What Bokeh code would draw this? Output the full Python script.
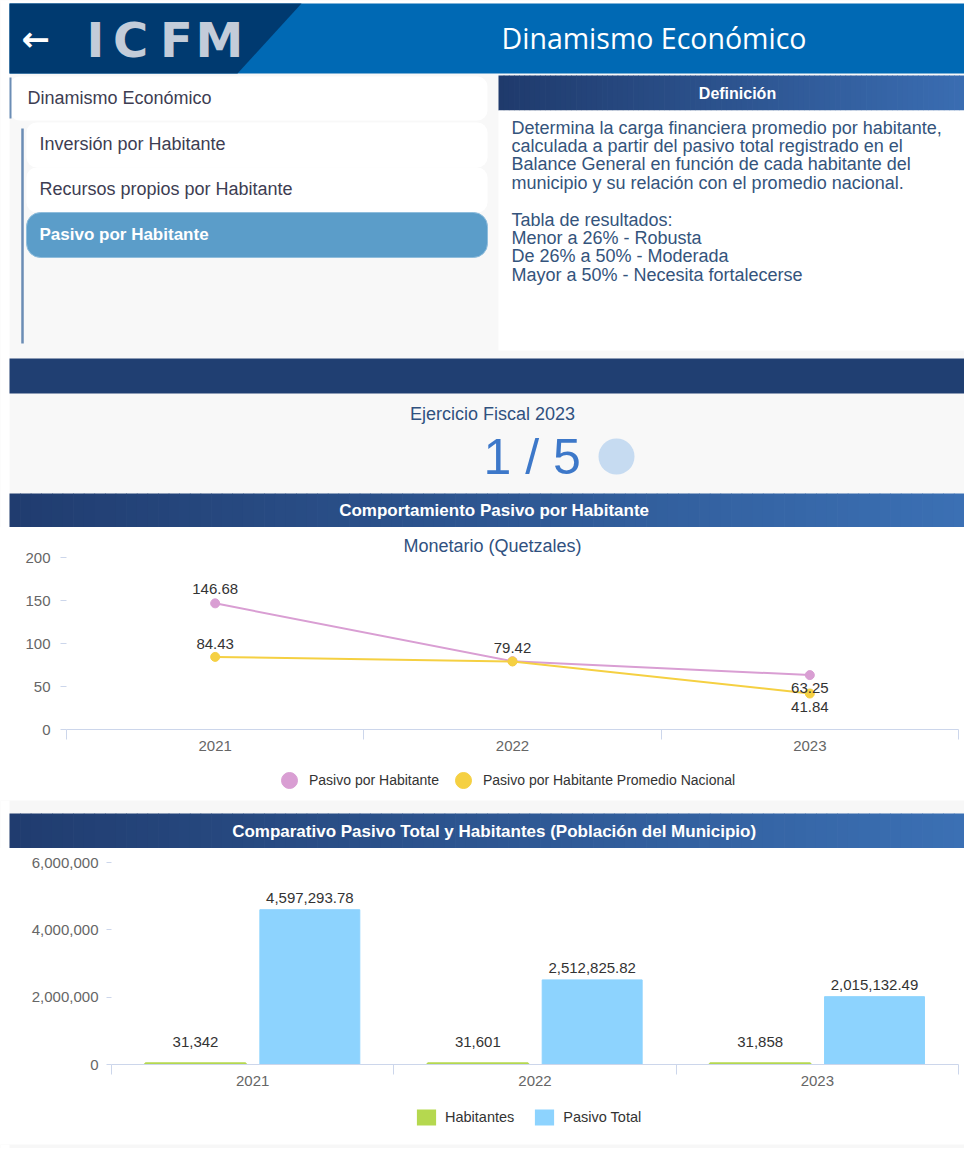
import numpy as np
from bokeh.plotting import figure
from bokeh.models import (Range1d, FixedTicker, NumeralTickFormatter, Legend, LegendItem)
from bokeh.embed import file_html
from bokeh.resources import INLINE
from bokeh.core.properties import value

# ---------------- data ----------------
years = ["2021", "2022", "2023"]
pasivo_por_habitante = [146.68, 79.42, 63.25]
pasivo_promedio_nacional = [84.43, 79.10, 41.84]
habitantes = [31342, 31601, 31858]
pasivo_total = [4597293.78, 2512825.82, 2015132.49]
line_y_ticks = [0, 50, 100, 150, 200]
bar_y_ticks = [0, 2000000, 4000000, 6000000]

page_title = "Dinamismo Económico"
logo = "ICFM"
menu_section = "Dinamismo Económico"
menu_items = ["Inversión por Habitante", "Recursos propios por Habitante", "Pasivo por Habitante"]
selected_item = 2
definition_title = "Definición"
definition_lines = [
    "Determina la carga financiera promedio por habitante,",
    "calculada a partir del pasivo total registrado en el",
    "Balance General en función de cada habitante del",
    "municipio y su relación con el promedio nacional.",
    "",
    "Tabla de resultados:",
    "Menor a 26% - Robusta",
    "De 26% a 50% - Moderada",
    "Mayor a 50% - Necesita fortalecerse",
]
ejercicio = "Ejercicio Fiscal 2023"
pager = "1 / 5"
chart1_title = "Comportamiento Pasivo por Habitante"
chart1_subtitle = "Monetario (Quetzales)"
chart2_title = "Comparativo Pasivo Total y Habitantes (Población del Municipio)"
series1_names = ["Pasivo por Habitante", "Pasivo por Habitante Promedio Nacional"]
series2_names = ["Habitantes", "Pasivo Total"]

# ---------------- style ----------------
FONT = "Liberation Sans"
PINK = "#d99ed3"
YELLOW = "#f5d042"
GREEN = "#b5d84f"
BLUE = "#8dd3fe"
AXIS_GRAY = "#ccd6eb"
TICK_TXT = "#666666"
LABEL_TXT = "#333333"
PAGE_GRAY = "#f8f8f8"
W = 964
XL, XR = 0, 964


def mix(c0, c1, t):
    a = [int(c0[i:i + 2], 16) for i in (1, 3, 5)]
    b = [int(c1[i:i + 2], 16) for i in (1, 3, 5)]
    return "#%02x%02x%02x" % tuple(int(round(a[k] + (b[k] - a[k]) * t)) for k in range(3))


def deco_fig(y_top, y_bot, bg=PAGE_GRAY):
    p = figure(width=W, height=y_bot - y_top, x_range=Range1d(XL, XR),
               y_range=Range1d(y_bot, y_top), output_backend="svg",
               toolbar_location=None, x_axis_location=None, y_axis_location=None,
               min_border=0)
    p.grid.visible = False
    p.outline_line_color = None
    p.background_fill_color = bg
    p.border_fill_color = bg
    p.quad(left=XL, right=9, top=y_top, bottom=y_bot, fill_color="#ffffff", line_color=None)
    return p


def gradient_band(p, x0, x1, y0, y1, c0, c1, n=90):
    edges = np.linspace(x0, x1, n + 1)
    cols = [mix(c0, c1, (i + 0.5) / n) for i in range(n)]
    p.quad(left=edges[:-1], right=edges[1:] + 0.7, top=y0, bottom=y1,
           fill_color=cols, line_color=None)


def txt(p, x, y, s, size, color, align="left", bold=False, font=FONT):
    p.text(x=[x], y=[y], text=[s], text_font=value(font), text_font_size=size,
           text_color=color, text_align=align, text_baseline="middle",
           text_font_style="bold" if bold else "normal")


def style_axes(p, ytick_out, ystandoff):
    p.grid.visible = False
    p.outline_line_color = None
    p.background_fill_color = "#ffffff"
    p.border_fill_color = "#ffffff"
    n = len(years)
    centers = [i + 0.5 for i in range(n)]
    p.xaxis.ticker = FixedTicker(ticks=centers, minor_ticks=list(range(n + 1)))
    p.xaxis.major_label_overrides = {c: y for c, y in zip(centers, years)}
    p.xaxis.major_tick_line_color = None
    p.xaxis.major_tick_out = 0
    p.xaxis.major_tick_in = 0
    p.xaxis.minor_tick_out = 10
    p.xaxis.minor_tick_in = 0
    p.xaxis.minor_tick_line_color = AXIS_GRAY
    p.xaxis.axis_line_color = AXIS_GRAY
    p.xaxis.major_label_standoff = 1
    p.yaxis.axis_line_color = None
    p.yaxis.major_tick_out = ytick_out
    p.yaxis.major_tick_in = 0
    p.yaxis.major_tick_line_color = AXIS_GRAY
    p.yaxis.minor_tick_line_color = None
    p.yaxis.major_label_standoff = ystandoff
    for ax in (p.xaxis, p.yaxis):
        ax.major_label_text_font = FONT
        ax.major_label_text_font_size = "15px"
        ax.major_label_text_color = TICK_TXT


# ---------------- top decoration (header, menu, definition, pager) ----------------
top = deco_fig(0, 527)
top.quad(left=XL, right=XR, top=0, bottom=3, fill_color="#ffffff", line_color=None)
top.quad(left=9, right=XR, top=3, bottom=73, fill_color="#0069b4", line_color=None)
top.patch(x=[9, 301, 237, 9], y=[3, 3, 73, 73], fill_color="#003a70", line_color=None)
txt(top, 35, 38, "←", "34px", "#ffffff", align="center", bold=True, font="DejaVu Sans")
top.text(x=[95, 130, 176, 219], y=[39] * 4, text=list(logo), text_font=value("DejaVu Sans"),
         text_font_size="48px", text_font_style="bold", text_color="#c3ccd9",
         text_align="center", text_baseline="middle")
txt(top, 653.5, 37, page_title, "28.5px", "#ffffff", align="center", font="Open Sans")

# left menu
top.quad(left=9, right=487, top=76, bottom=120, fill_color="#ffffff", line_color=None,
         border_radius=10)
top.segment(x0=[10], y0=[77], x1=[10], y1=[118], line_color="#6b8db5", line_width=2)
txt(top, 27, 97, menu_section, "18px", "#3d3d52")
top.segment(x0=[22], y0=[128], x1=[22], y1=[343], line_color="#6b8db5", line_width=2.5)
for i, item in enumerate(menu_items):
    t = 122 + 45 * i
    sel = i == selected_item
    top.quad(left=26, right=487, top=t, bottom=t + 45,
             fill_color="#5b9dc9" if sel else "#ffffff",
             line_color="#8fbddc" if sel else None, border_radius=14 if sel else 10)
    txt(top, 39, t + 21.5, item, "17px" if sel else "18px",
        "#ffffff" if sel else "#3d3d52", bold=sel)

# definition panel
gradient_band(top, 498, XR, 75, 110, "#1f3a6c", "#3a6db2")
txt(top, 737, 93, definition_title, "16px", "#ffffff", align="center", bold=True)
top.quad(left=498, right=XR, top=110, bottom=350, fill_color="#ffffff", line_color=None)
for i, line in enumerate(definition_lines):
    if line:
        txt(top, 511, 127 + 18.4 * i, line, "18px", "#34547c")

# band + pager
top.quad(left=9, right=XR, top=358, bottom=393, fill_color="#203f72", line_color=None)
txt(top, 492, 413, ejercicio, "18px", "#30517f", align="center")
txt(top, 531.6, 456, pager, "50px", "#3d78c9", align="center")
top.circle(x=[616], y=[456], radius=18, fill_color="#c6dbf1", line_color=None)

# chart 1 header band
gradient_band(top, 9, XR, 493, 527, "#203c6f", "#3b70b4")
txt(top, 493.6, 510, chart1_title, "17px", "#ffffff", align="center", bold=True)

# ---------------- line chart ----------------
xs = np.arange(len(years)) + 0.5
pl = figure(frame_width=892, frame_height=172, x_range=Range1d(0, len(years)),
            y_range=Range1d(line_y_ticks[0], line_y_ticks[-1]),
            output_backend="svg", toolbar_location=None, title=chart1_subtitle,
            min_border_left=66, min_border_right=6, min_border_top=30, min_border_bottom=30)
style_axes(pl, 6, 10)
pl.yaxis.ticker = FixedTicker(ticks=line_y_ticks)
pl.title.align = "left"
pl.title.offset = 337
pl.title.standoff = 4
pl.title.text_font = FONT
pl.title.text_font_size = "18px"
pl.title.text_font_style = "normal"
pl.title.text_color = "#30517f"

pl.line(xs, pasivo_por_habitante, line_color=PINK, line_width=2)
pl.scatter(xs, pasivo_por_habitante, size=9, fill_color=PINK, line_color=PINK)
pl.line(xs, pasivo_promedio_nacional, line_color=YELLOW, line_width=2)
pl.scatter(xs, pasivo_promedio_nacional, size=9, fill_color=YELLOW, line_color=YELLOW)

pink_dy = [-14, -13, 13]
pl.text(x=xs, y=pasivo_por_habitante, text=["%.2f" % v for v in pasivo_por_habitante],
        y_offset=pink_dy, text_font=value(FONT), text_font_size="15px", text_color=LABEL_TXT,
        text_align="center", text_baseline="middle")
shown = [0, 2]
yel_dy = [-13, 13]
pl.text(x=[xs[i] for i in shown], y=[pasivo_promedio_nacional[i] for i in shown],
        text=["%.2f" % pasivo_promedio_nacional[i] for i in shown], y_offset=yel_dy,
        text_font=value(FONT), text_font_size="15px", text_color=LABEL_TXT,
        text_align="center", text_baseline="middle")

# legend of the line chart (proxy glyphs use the series' first value, which lies
# outside this strip's range, so only the legend swatch is visible)
lg1 = deco_fig(759, 800, bg="#ffffff")
k_pink = lg1.scatter(x=[xs[0]], y=[pasivo_por_habitante[0]], size=0,
                     fill_color=PINK, line_color=PINK)
k_yel = lg1.scatter(x=[xs[0]], y=[pasivo_promedio_nacional[0]], size=0,
                    fill_color=YELLOW, line_color=YELLOW)
leg1 = Legend(items=[LegendItem(label=series1_names[0], renderers=[k_pink]),
                     LegendItem(label=series1_names[1], renderers=[k_yel])],
              orientation="horizontal", location=(269, 0), glyph_width=40, glyph_height=40,
              label_standoff=-4, spacing=4, padding=0, margin=0, border_line_color=None,
              background_fill_alpha=0, label_text_font=FONT, label_text_font_size="14px",
              label_text_color=LABEL_TXT)
lg1.add_layout(leg1)

# ---------------- chart 2 header ----------------
mid = deco_fig(800, 848, bg="#f7f7f7")
gradient_band(mid, 9, XR, 813, 848, "#203c6f", "#3b70b4")
txt(mid, 493.6, 831, chart2_title, "17px", "#ffffff", align="center", bold=True)

# ---------------- bar chart ----------------
pb = figure(frame_width=847, frame_height=202, x_range=Range1d(0, len(years)),
            y_range=Range1d(bar_y_ticks[0], bar_y_ticks[-1]),
            output_backend="svg", toolbar_location=None,
            min_border_left=111, min_border_right=6, min_border_top=14, min_border_bottom=30)
style_axes(pb, 5, 8)
pb.yaxis.ticker = FixedTicker(ticks=bar_y_ticks)
pb.yaxis.formatter = NumeralTickFormatter(format="0,0")

bw, dx = 0.354, 0.2025
pb.vbar(x=xs - dx, top=habitantes, width=bw, fill_color=GREEN, line_color=GREEN,
        line_width=2.5)
pb.vbar(x=xs + dx, top=pasivo_total, width=bw, fill_color=BLUE, line_color=BLUE,
        line_width=1)
pb.text(x=xs - dx, y=habitantes, text=["{:,}".format(v) for v in habitantes], y_offset=-21,
        text_font=value(FONT), text_font_size="15px", text_color=LABEL_TXT,
        text_align="center", text_baseline="middle")
pb.text(x=xs + dx, y=pasivo_total, text=["{:,.2f}".format(v) for v in pasivo_total],
        y_offset=-12, text_font=value(FONT), text_font_size="15px", text_color=LABEL_TXT,
        text_align="center", text_baseline="middle")

# legend of the bar chart (zero-size proxy bars, only the swatches show)
lg2 = deco_fig(1094, 1140, bg="#ffffff")
k_hab = lg2.vbar(x=[xs[0]], top=[habitantes[0]], bottom=[habitantes[0]], width=0,
                 fill_color=GREEN, line_color=None)
k_pas = lg2.vbar(x=[xs[0]], top=[pasivo_total[0]], bottom=[pasivo_total[0]], width=0,
                 fill_color=BLUE, line_color=None)
leg2 = Legend(items=[LegendItem(label=series2_names[0], renderers=[k_hab]),
                     LegendItem(label=series2_names[1], renderers=[k_pas])],
              orientation="horizontal", location=(414, 13), glyph_width=24, glyph_height=20,
              label_standoff=7, spacing=18, padding=0, margin=0, border_line_color=None,
              background_fill_alpha=0, label_text_font=FONT, label_text_font_size="14.5px",
              label_text_color=LABEL_TXT)
lg2.add_layout(leg2)

bottom = deco_fig(1140, 1148, bg="#f7f7f7")

open("out.html", "w").write(file_html([top, pl, lg1, mid, pb, lg2, bottom], INLINE))
